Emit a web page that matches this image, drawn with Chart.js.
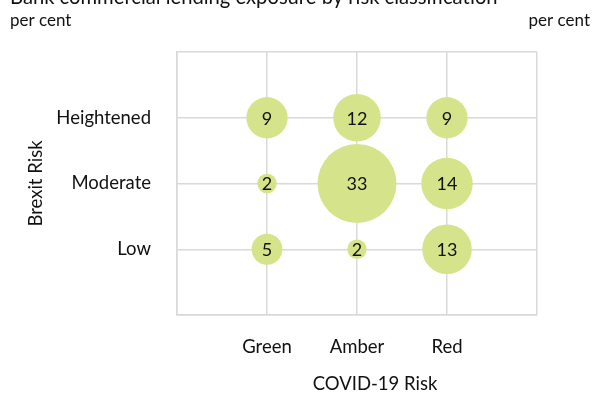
<!DOCTYPE html>
<html>
<head>
<meta charset="utf-8">
<script src="https://cdn.jsdelivr.net/npm/chart.js@4/dist/chart.umd.min.js"></script>
<style>
  html, body { margin: 0; padding: 0; background: #fff; }
  #wrap { width: 592px; height: 394px; position: relative; }
</style>
</head>
<body>
<div id="wrap"><canvas id="c" width="592" height="394"></canvas></div>
<script>
const chartTitle = 'Bank commercial lending exposure by risk classification';
const unitLabel = 'per cent';
const covidCategories = ['Green', 'Amber', 'Red'];
const brexitCategories = ['Low', 'Moderate', 'Heightened'];
// values for each COVID-19 category, ordered Low, Moderate, Heightened
const greenValues = [5, 2, 9];
const amberValues = [2, 33, 12];
const redValues = [13, 14, 9];
const xAxisTitle = 'COVID-19 Risk';
const yAxisTitle = 'Brexit Risk';

const seriesByCovid = [greenValues, amberValues, redValues];
const bubbleData = [];
seriesByCovid.forEach((vals, i) => {
  vals.forEach((v, j) => bubbleData.push({ x: i + 1, y: j + 1, v: v }));
});

const FONT = 'Lato, "Open Sans", sans-serif';
const TEXT = '#111111';
const GRID = '#d9d9d9';

const headerPlugin = {
  id: 'header',
  afterDraw(chart) {
    const ctx = chart.ctx;
    ctx.save();
    ctx.fillStyle = TEXT;
    ctx.textBaseline = 'alphabetic';
    ctx.font = '20.2px ' + FONT;
    ctx.textAlign = 'left';
    ctx.fillText(chartTitle, 10, 4);
    ctx.font = '17px ' + FONT;
    ctx.fillText(unitLabel, 10, 26);
    ctx.textAlign = 'right';
    ctx.fillText(unitLabel, 590, 26);
    // x-axis title (offset right of the plot centre, as in the source)
    const ca = chart.chartArea;
    ctx.font = '18.5px ' + FONT;
    ctx.textAlign = 'center';
    ctx.textBaseline = 'middle';
    ctx.fillText(xAxisTitle, (ca.left + ca.right) / 2 + 18, 384);
    ctx.restore();
  }
};

const bubbleLabels = {
  id: 'bubbleLabels',
  afterDatasetsDraw(chart) {
    const ctx = chart.ctx;
    const meta = chart.getDatasetMeta(0);
    ctx.save();
    ctx.fillStyle = TEXT;
    ctx.font = '18px ' + FONT;
    ctx.textAlign = 'center';
    ctx.textBaseline = 'middle';
    meta.data.forEach((el, i) => {
      ctx.fillText(String(bubbleData[i].v), el.x, el.y + 1);
    });
    ctx.restore();
  }
};

new Chart(document.getElementById('c'), {
  type: 'bubble',
  data: {
    datasets: [{
      data: bubbleData,
      backgroundColor: '#d5e38a',
      borderWidth: 0,
      radius: (ctx) => 6.88 * Math.sqrt(ctx.raw ? ctx.raw.v : 0),
      hoverRadius: 0
    }]
  },
  options: {
    responsive: false,
    animation: false,
    events: [],
    layout: { padding: { top: 52, right: 55, left: 0, bottom: 0 } },
    plugins: { legend: { display: false }, tooltip: { enabled: false } },
    scales: {
      x: {
        type: 'linear', min: 0, max: 4,
        afterFit(s) { s.height = 79; },
        grid: { color: GRID, lineWidth: 1.5, drawTicks: false },
        border: { color: GRID, width: 1.5 },
        ticks: {
          stepSize: 1, autoSkip: false, maxRotation: 0, padding: 21,
          color: TEXT, font: { family: FONT, size: 18.5 },
          callback: (v) => covidCategories[v - 1] || ''
        },
        title: { display: false }
      },
      y: {
        type: 'linear', min: 0, max: 4,
        afterFit(s) { s.width = 177; },
        grid: { color: GRID, lineWidth: 1.5, drawTicks: false },
        border: { color: GRID, width: 1.5 },
        ticks: {
          stepSize: 1, autoSkip: false, padding: 26,
          color: TEXT, font: { family: FONT, size: 18.5 },
          callback: (v) => brexitCategories[v - 1] || ''
        },
        title: { display: true, text: yAxisTitle, color: TEXT, font: { family: FONT, size: 18.5 }, padding: { top: 25, bottom: 0 } }
      }
    }
  },
  plugins: [headerPlugin, bubbleLabels]
});
</script>
</body>
</html>
